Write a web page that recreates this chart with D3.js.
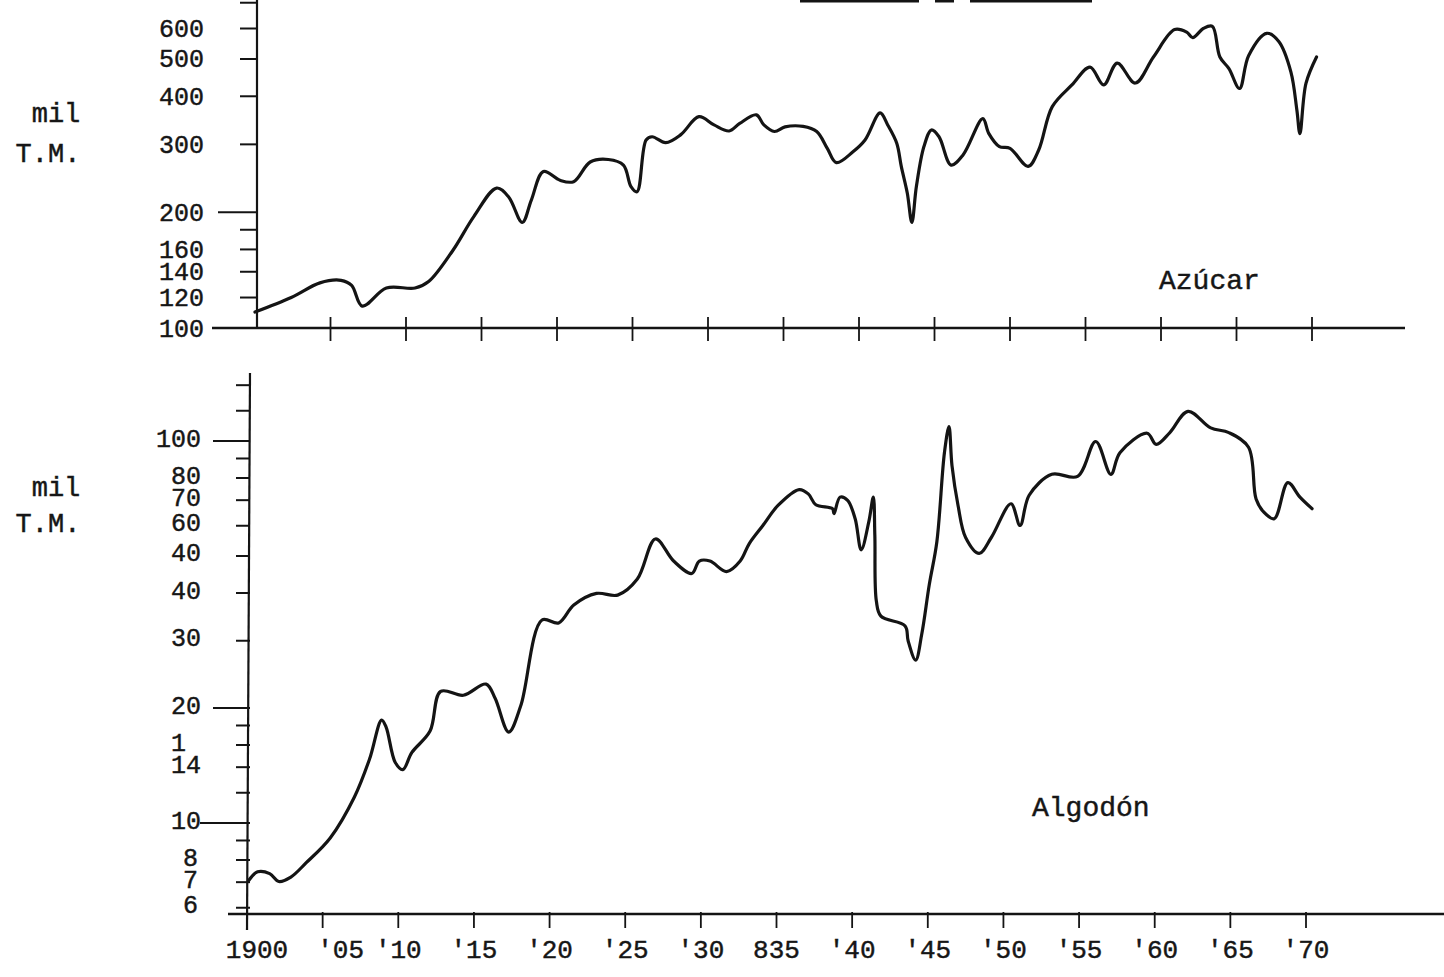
<!DOCTYPE html>
<html>
<head>
<meta charset="utf-8">
<script src="https://cdn.jsdelivr.net/npm/d3@7/dist/d3.min.js"></script>
<style>
  html, body { margin: 0; padding: 0; background: #ffffff; }
  svg { display: block; }
  text { font-family: "Liberation Mono", "DejaVu Sans Mono", monospace; fill: #161616; stroke: #161616; stroke-width: 0.45px; }
</style>
</head>
<body>
<svg id="chart" width="1444" height="977"></svg>
<script>
// ---------------- DATA ----------------
const years = [1900, 1905, 1910, 1915, 1920, 1925, 1930, 1935, 1940, 1945, 1950, 1955, 1960, 1965, 1970];
const yearLabels = ["1900", "'05", "'10", "'15", "'20", "'25", "'30", "835", "'40", "'45", "'50", "'55", "'60", "'65", "'70"];

// Azúcar (mil T.M.), [year, value]
const sugarSeries = [
  [1900.0,110],[1902.4,120],[1904.3,131],[1905.7,133],[1906.4,129],[1907.1,114],[1908.7,127],[1910.6,127],
  [1911.5,132],[1913.1,159],[1914.5,195],[1916.0,231],[1916.8,219],[1917.7,188],[1918.3,215],[1919.1,255],
  [1920.2,242],[1921.1,240],[1922.2,270],[1923.4,274],[1924.4,265],[1924.9,233],[1925.3,226],[1925.9,308],
  [1926.3,314],[1927.2,303],[1928.2,318],[1929.4,354],[1930.4,337],[1931.4,325],[1932.1,340],[1933.2,358],
  [1933.7,337],[1934.4,324],[1935.1,333],[1936.3,334],[1937.2,324],[1937.9,293],[1938.5,269],[1939.6,287],
  [1940.4,308],[1941.4,362],[1941.9,337],[1942.5,302],[1942.8,263],[1943.2,224],[1943.5,188],[1943.8,233],
  [1944.3,296],[1944.8,327],[1945.3,314],[1946.1,265],[1946.9,282],[1948.2,350],[1948.6,320],[1949.3,296],
  [1950.0,293],[1951.2,263],[1951.9,290],[1952.8,376],[1954.1,428],[1955.3,476],[1956.2,428],[1957.1,488],
  [1958.3,433],[1959.5,506],[1960.9,596],[1961.7,587],[1962.1,568],[1962.8,600],[1963.4,608],[1963.9,506],
  [1964.5,472],[1965.2,419],[1965.8,510],[1967.0,583],[1967.8,555],[1968.6,463],[1969.0,368],[1969.2,320],
  [1969.6,432],[1970.3,506]
];

// Algodón (mil T.M.), [year, value]
const cottonSeries = [
  [1900.1,7.06],[1900.7,7.45],[1901.5,7.37],[1902.1,7.03],[1902.9,7.22],[1903.9,7.86],[1905.5,9.14],[1907.1,11.7],
  [1908.1,14.7],[1908.9,18.6],[1909.2,17.8],[1909.8,14.4],[1910.3,13.8],[1910.9,15.3],[1912.1,17.4],[1912.8,22.1],
  [1914.3,21.6],[1915.8,23.1],[1916.4,21.2],[1917.3,17.3],[1918.1,20.3],[1919.5,34.0],[1920.6,33.4],[1921.6,37.2],
  [1923.1,39.9],[1924.5,39.5],[1925.8,43.5],[1927.0,55.4],[1928.2,48.5],[1929.4,45.0],[1929.9,48.5],[1930.6,48.5],
  [1931.7,45.5],[1932.6,48.5],[1933.2,53.9],[1934.1,60.1],[1935.1,67.8],[1936.5,74.6],[1937.1,72.7],[1937.6,68.1],
  [1938.7,66.5],[1938.8,64.5],[1939.2,71.3],[1939.7,69.9],[1940.2,62.6],[1940.6,51.9],[1941.1,61.4],[1941.4,71.3],
  [1941.5,56.7],[1941.6,38.1],[1941.9,34.8],[1943.5,32.8],[1943.7,30.0],[1944.2,26.7],[1944.6,31.2],[1945.1,42.1],
  [1945.6,54.5],[1946.1,93.2],[1946.4,109],[1946.6,86.2],[1947.0,67.8],[1947.5,55.9],[1948.4,50.8],[1949.2,55.9],
  [1950.5,68.5],[1951.1,60.1],[1951.7,72.1],[1953.2,81.8],[1954.9,80.8],[1956.1,99.7],[1957.1,81.8],[1957.7,93.2],
  [1959.5,104.8],[1960.1,98],[1961.0,105.2],[1962.2,119.6],[1963.7,108.2],[1964.9,105.2],[1966.2,96.3],[1966.7,70.5],
  [1967.2,65.2],[1967.9,62.6],[1968.8,77.8],[1969.6,71.3],[1970.4,66.5]
];

const sugarTicks = [100, 120, 140, 160, 180, 200, 300, 400, 500, 600, 700];
const sugarLongTicks = [200];
const sugarLabelValues = [100, 120, 140, 160, 200, 300, 400, 500, 600];
const sugarLabelTexts  = ["100", "120", "140", "160", "200", "300", "400", "500", "600"];

const cottonTicks = [6, 7, 8, 9, 10, 12, 14, 16, 18, 20, 30, 40, 50, 60, 70, 80, 90, 100, 120, 140];
const cottonLongTicks = [10, 20, 100];
const cottonLabelValues = [6, 7, 8, 10, 14, 16, 20, 30, 40, 50, 60, 70, 80, 100];
const cottonLabelTexts  = ["6", "7", "8", "10", "14", "1\u00a0", "20", "30", "40", "40", "60", "70", "80", "100"];

const unitLabel = ["mil", "T.M."];
const sugarName = "Azúcar";
const cottonName = "Algodón";

// ---------------- SCALES ----------------
const svg = d3.select("#chart");
const ink = "#141414";

const xTop = d3.scaleLinear().domain([1900, 1970]).range([255, 1312]);
const yTop = d3.scaleLog().domain([100, 600]).range([328, 28.5]);
const xBot = d3.scaleLinear().domain([1900, 1970]).range([247, 1306]);
const yBot = d3.scaleLog().domain([10, 100]).range([823, 441]);

const fontSize = 25;

// title underline fragments at the very top (cut-off heading)
const headRules = [[800, 919], [935, 954], [970, 1092]];
svg.append("g").selectAll("line").data(headRules).join("line")
  .attr("x1", d => d[0]).attr("x2", d => d[1]).attr("y1", 1).attr("y2", 1)
  .attr("stroke", ink).attr("stroke-width", 3);

// ---------------- TOP PANEL (Azúcar) ----------------
const topG = svg.append("g");
topG.append("line").attr("x1", 257).attr("x2", 257).attr("y1", 0).attr("y2", yTop(100))
  .attr("stroke", ink).attr("stroke-width", 2.2);
topG.append("line").attr("x1", 212).attr("x2", 1405).attr("y1", yTop(100)).attr("y2", yTop(100))
  .attr("stroke", ink).attr("stroke-width", 2.6);
topG.append("g").selectAll("line").data(sugarTicks.filter(v => v > 100)).join("line")
  .attr("x1", d => sugarLongTicks.includes(d) ? 218 : 240).attr("x2", 257)
  .attr("y1", d => yTop(d)).attr("y2", d => yTop(d))
  .attr("stroke", ink).attr("stroke-width", 2);
topG.append("g").selectAll("text").data(sugarLabelValues).join("text")
  .attr("x", 204).attr("y", d => yTop(d)).attr("dy", "0.34em")
  .attr("text-anchor", "end").style("font-size", fontSize + "px")
  .text((d, i) => sugarLabelTexts[i]);
topG.append("g").selectAll("line").data(years.slice(1)).join("line")
  .attr("x1", d => xTop(d)).attr("x2", d => xTop(d))
  .attr("y1", yTop(100) - 11).attr("y2", yTop(100) + 13)
  .attr("stroke", ink).attr("stroke-width", 1.8);
topG.append("text").attr("x", 56).attr("y", 122).attr("text-anchor", "middle")
  .style("font-size", "27px").text(unitLabel[0]);
topG.append("text").attr("x", 48).attr("y", 162).attr("text-anchor", "middle")
  .style("font-size", "27px").text(unitLabel[1]);
topG.append("text").attr("x", 1159).attr("y", 289).style("font-size", "28px").text(sugarName);
const lineTop = d3.line().x(d => xTop(d[0])).y(d => yTop(d[1])).curve(d3.curveCatmullRom.alpha(0.5));
topG.append("path").datum(sugarSeries).attr("d", lineTop)
  .attr("fill", "none").attr("stroke", ink).attr("stroke-width", 3.2)
  .attr("stroke-linejoin", "round").attr("stroke-linecap", "round");

// ---------------- BOTTOM PANEL (Algodón) ----------------
const botG = svg.append("g");
const axisY = 914;
botG.append("line").attr("x1", 250).attr("x2", 247).attr("y1", 373).attr("y2", 930)
  .attr("stroke", ink).attr("stroke-width", 2.2);
botG.append("line").attr("x1", 228).attr("x2", 1444).attr("y1", axisY).attr("y2", axisY)
  .attr("stroke", ink).attr("stroke-width", 2.6);
botG.append("g").selectAll("line").data(cottonTicks).join("line")
  .attr("x1", d => d === 10 ? 200 : (cottonLongTicks.includes(d) ? 213 : 236)).attr("x2", 250)
  .attr("y1", d => yBot(d)).attr("y2", d => yBot(d))
  .attr("stroke", ink).attr("stroke-width", 2);
botG.append("g").selectAll("text").data(cottonLabelValues).join("text")
  .attr("x", d => d < 10 ? 198 : 201).attr("y", d => yBot(d) - 3).attr("dy", "0.34em")
  .attr("text-anchor", "end").style("font-size", fontSize + "px")
  .text((d, i) => cottonLabelTexts[i]);
botG.append("g").selectAll("line").data(years.slice(1)).join("line")
  .attr("x1", d => xBot(d)).attr("x2", d => xBot(d))
  .attr("y1", axisY - 2).attr("y2", axisY + 14)
  .attr("stroke", ink).attr("stroke-width", 1.8);
botG.append("g").selectAll("text").data(years).join("text")
  .attr("x", d => xBot(d) + (d === 1900 ? 10 : (d === 1905 ? 18 : 0)))
  .attr("y", 958).attr("text-anchor", "middle").style("font-size", "26px")
  .text((d, i) => yearLabels[i]);
botG.append("text").attr("x", 56).attr("y", 496).attr("text-anchor", "middle")
  .style("font-size", "27px").text(unitLabel[0]);
botG.append("text").attr("x", 48).attr("y", 532).attr("text-anchor", "middle")
  .style("font-size", "27px").text(unitLabel[1]);
botG.append("text").attr("x", 1032).attr("y", 816).style("font-size", "28px").text(cottonName);
const lineBot = d3.line().x(d => xBot(d[0])).y(d => yBot(d[1])).curve(d3.curveCatmullRom.alpha(0.5));
botG.append("path").datum(cottonSeries).attr("d", lineBot)
  .attr("fill", "none").attr("stroke", ink).attr("stroke-width", 3.2)
  .attr("stroke-linejoin", "round").attr("stroke-linecap", "round");
</script>
</body>
</html>
